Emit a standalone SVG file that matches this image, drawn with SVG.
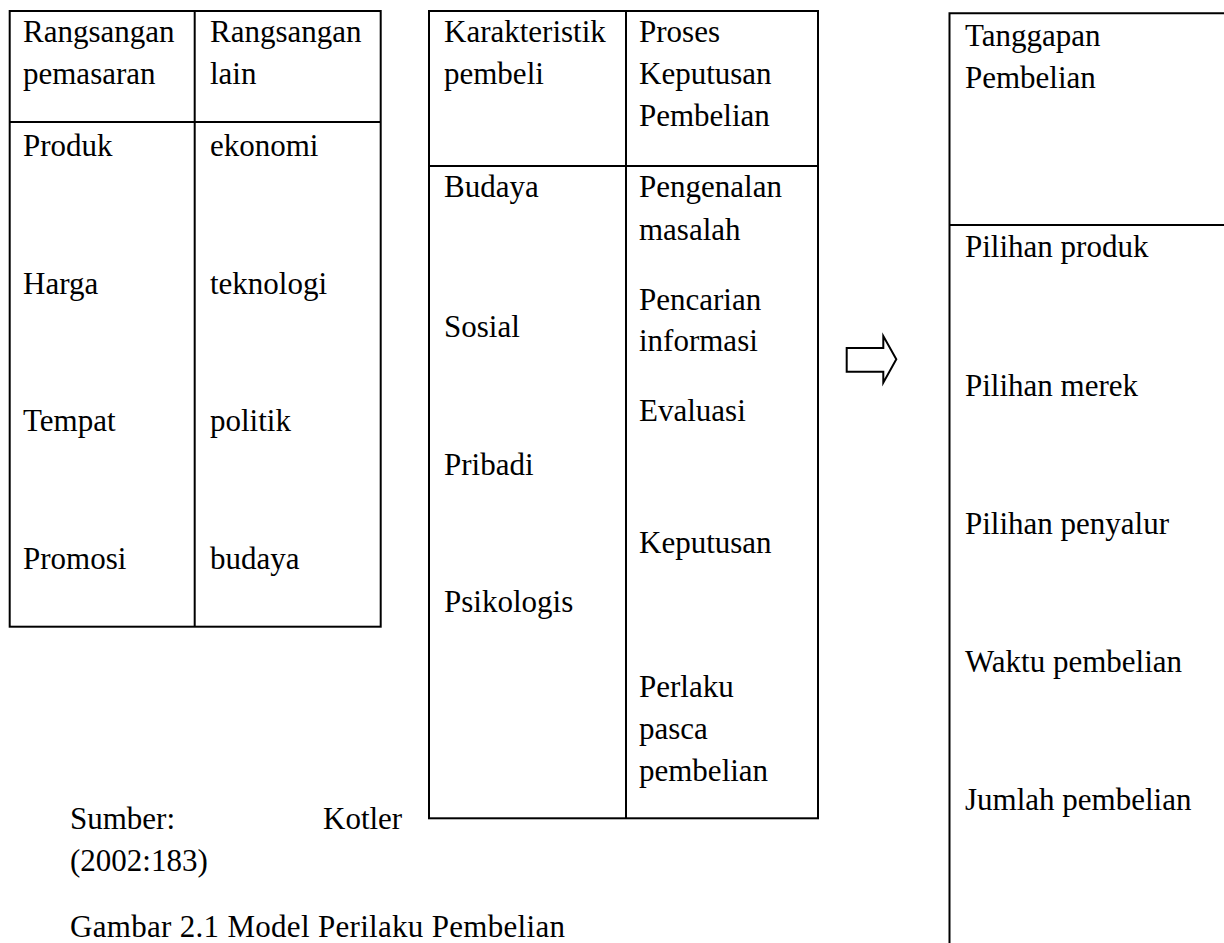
<svg xmlns="http://www.w3.org/2000/svg" width="1224" height="943" viewBox="0 0 1224 943">
<style>
  text { font-family: "Liberation Serif", "Times New Roman", serif; font-size: 31px; fill: #000; }
  .ln { stroke: #000; stroke-width: 2; fill: none; }
</style>
<rect width="1224" height="943" fill="#fff"/>
<g id="table-rangsangan">
  <rect class="ln" x="9.7" y="11" width="371" height="615.7"/>
  <line class="ln" x1="194.7" y1="11" x2="194.7" y2="626.7"/>
  <line class="ln" x1="9.7" y1="122" x2="380.7" y2="122"/>
  <g transform="translate(0,4)">
  <text x="23" y="38">Rangsangan</text>
  <text x="23" y="80">pemasaran</text>
  <text x="210" y="38">Rangsangan</text>
  <text x="210" y="80">lain</text>
  <text x="23" y="152">Produk</text>
  <text x="23" y="290">Harga</text>
  <text x="23" y="427">Tempat</text>
  <text x="23" y="565">Promosi</text>
  <text x="210" y="152">ekonomi</text>
  <text x="210" y="290">teknologi</text>
  <text x="210" y="427">politik</text>
  <text x="210" y="565">budaya</text>
  </g>
</g>
<g id="table-pembeli">
  <rect class="ln" x="429" y="11" width="389" height="807.3"/>
  <line class="ln" x1="626" y1="11" x2="626" y2="818.3"/>
  <line class="ln" x1="429" y1="166" x2="818" y2="166"/>
  <g transform="translate(0,4)">
  <text x="444" y="38">Karakteristik</text>
  <text x="444" y="80">pembeli</text>
  <text x="639" y="38">Proses</text>
  <text x="639" y="80">Keputusan</text>
  <text x="639" y="122">Pembelian</text>
  <text x="444" y="193">Budaya</text>
  <text x="444" y="333">Sosial</text>
  <text x="444" y="471">Pribadi</text>
  <text x="444" y="608">Psikologis</text>
  <text x="639" y="193">Pengenalan</text>
  <text x="639" y="236">masalah</text>
  <text x="639" y="306">Pencarian</text>
  <text x="639" y="347">informasi</text>
  <text x="639" y="417">Evaluasi</text>
  <text x="639" y="549">Keputusan</text>
  <text x="639" y="693">Perlaku</text>
  <text x="639" y="735">pasca</text>
  <text x="639" y="777">pembelian</text>
  </g>
</g>
<g id="connectors">
  <polygon class="ln" points="846.7,348 883.3,348 883.3,336 896.3,359.3 883.3,382.7 883.3,371.7 846.7,371.7"/>
</g>
<g id="table-tanggapan">
  <polyline class="ln" points="1225,13.3 949.5,13.3 949.5,944"/>
  <line class="ln" x1="949.5" y1="225" x2="1225" y2="225"/>
  <g transform="translate(0,4)">
  <text x="965" y="42">Tanggapan</text>
  <text x="965" y="84">Pembelian</text>
  <text x="965" y="253">Pilihan produk</text>
  <text x="965" y="392">Pilihan merek</text>
  <text x="965" y="530">Pilihan penyalur</text>
  <text x="965" y="668">Waktu pembelian</text>
  <text x="965" y="806">Jumlah pembelian</text>
  </g>
</g>
<g id="caption" transform="translate(0,4)">
  <text x="70" y="825">Sumber:</text>
  <text x="323" y="825">Kotler</text>
  <text x="70" y="867">(2002:183)</text>
  <text x="70" y="933" textLength="495">Gambar 2.1 Model Perilaku Pembelian</text>
</g>
</svg>
